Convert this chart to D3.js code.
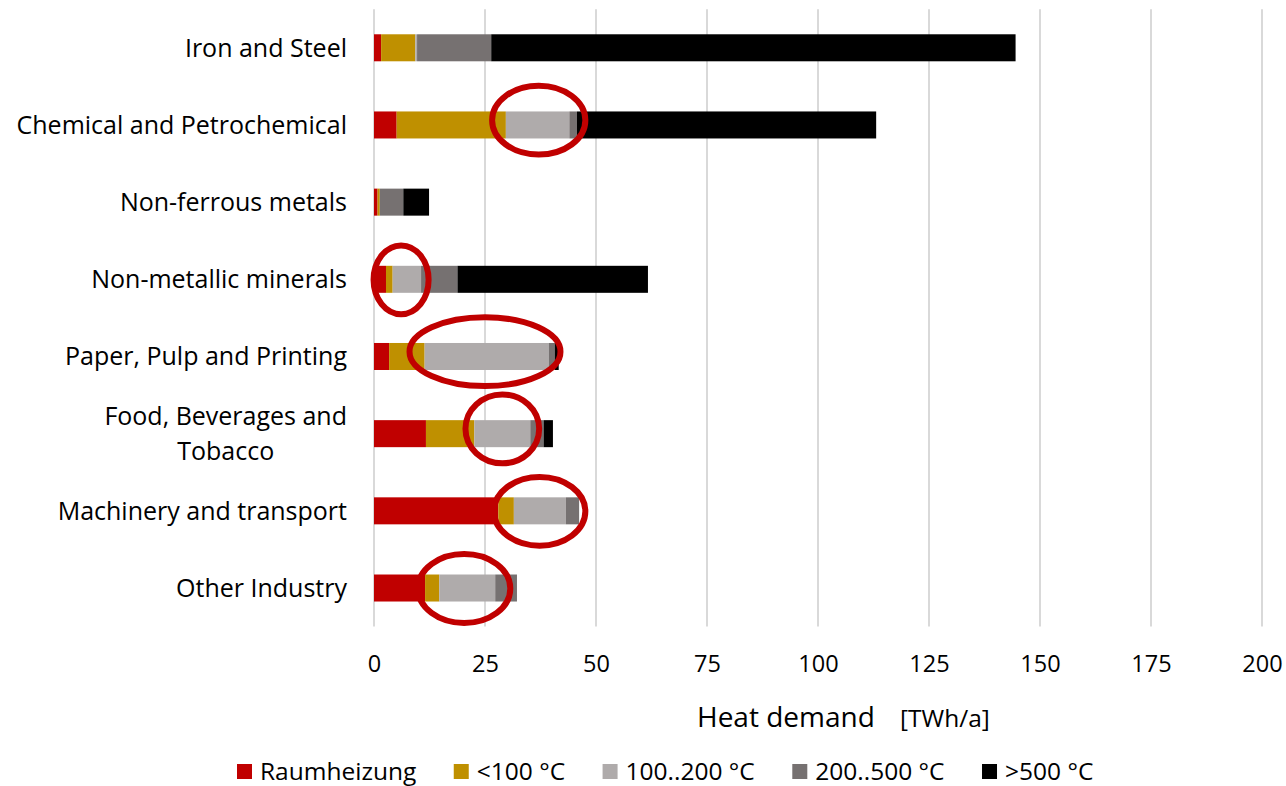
<!DOCTYPE html>
<html>
<head>
<meta charset="utf-8">
<script src="https://cdn.jsdelivr.net/npm/d3@7"></script>
<style>
  html, body { margin: 0; padding: 0; background: #fff; }
  svg { display: block; }
  text { font-family: "Open Sans", "Noto Sans", sans-serif; fill: #000; }
</style>
</head>
<body>
<svg id="chart" width="1286" height="786"></svg>
<script>
// ---- data ----
const categories = [
  "Iron and Steel",
  "Chemical and Petrochemical",
  "Non-ferrous metals",
  "Non-metallic minerals",
  "Paper, Pulp and Printing",
  "Food, Beverages and\nTobacco",
  "Machinery and transport",
  "Other Industry"
];
const seriesNames = ["Raumheizung", "<100 °C", "100..200 °C", "200..500 °C", ">500 °C"];
const raumheizung = [1.6, 5.1, 0.8, 2.7, 3.4, 11.7, 28.0, 11.5];
const below100    = [7.7, 24.6, 0.5, 1.5, 8.0, 10.9, 3.5, 3.2];
const t100to200   = [0.4, 14.3, 0.0, 6.4, 28.0, 12.6, 11.7, 12.6];
const t200to500   = [16.7, 1.7, 5.3, 8.2, 1.3, 3.0, 3.0, 4.9];
const above500    = [118.1, 67.4, 5.8, 42.9, 0.9, 2.1, 0.0, 0.0];
const xTicks = [0, 25, 50, 75, 100, 125, 150, 175, 200];
const axisTitle = "Heat demand";
const axisUnit = "[TWh/a]";
// highlighted segments (red ellipses): category, centre value, half-width (TWh)
const highlightCats   = ["Chemical and Petrochemical", "Non-metallic minerals", "Paper, Pulp and Printing", "Food, Beverages and\nTobacco", "Machinery and transport", "Other Industry"];
const highlightCenter = [37.1, 6.1, 25.0, 28.9, 37.3, 20.3];
const highlightHalf   = [10.5, 6.2, 17.0, 8.3, 10.3, 10.4];

// ---- styles ----
const colors = ["#c00000", "#bf9000", "#afabab", "#767171", "#000000"];
const svg = d3.select("#chart");
const margin = { left: 374, right: 24, top: 9.2, bottom: 159.4 };
const W = 1286, H = 786;

const x = d3.scaleLinear().domain([0, 200]).range([margin.left, W - margin.right]);
const y = d3.scaleBand().domain(categories).range([margin.top, H - margin.bottom]).paddingInner(0.65).paddingOuter(0.325);

// gridlines
svg.append("g")
  .selectAll("line").data(xTicks).join("line")
  .attr("x1", d => x(d)).attr("x2", d => x(d))
  .attr("y1", margin.top).attr("y2", H - margin.bottom)
  .attr("stroke", "#d9d9d9").attr("stroke-width", 2);

// stacked data
const rows = categories.map((c, i) => ({
  cat: c,
  "Raumheizung": raumheizung[i],
  "<100 °C": below100[i],
  "100..200 °C": t100to200[i],
  "200..500 °C": t200to500[i],
  ">500 °C": above500[i]
}));
const stack = d3.stack().keys(seriesNames)(rows);

svg.append("g").selectAll("g").data(stack).join("g")
  .attr("fill", (d, i) => colors[i])
  .selectAll("rect").data(d => d).join("rect")
  .attr("x", d => x(d[0]))
  .attr("width", d => Math.max(0, x(d[1]) - x(d[0])))
  .attr("y", d => y(d.data.cat))
  .attr("height", y.bandwidth());

// x axis tick labels
const xAxis = d3.axisBottom(x).tickValues(xTicks).tickSize(0).tickPadding(0);
const gx = svg.append("g").attr("transform", `translate(0,${H - margin.bottom})`).call(xAxis);
gx.select(".domain").remove();
gx.selectAll("text")
  .attr("dy", null).attr("y", 45)
  .style("font-family", '"Open Sans", sans-serif')
  .style("font-size", "23.5px").attr("fill", "#000");

// y axis category labels
const yAxis = d3.axisLeft(y).tickSize(0).tickPadding(0);
const gy = svg.append("g").attr("transform", `translate(${margin.left},0)`).call(yAxis);
gy.select(".domain").remove();
gy.selectAll(".tick text").each(function(d) {
  const t = d3.select(this);
  const lines = d.split("\n");
  t.text(null).attr("dy", null).attr("x", null)
    .style("font-family", '"Open Sans", sans-serif').style("font-size", "25px")
    .attr("fill", "#000");
  if (lines.length === 1) {
    t.attr("text-anchor", "end").attr("x", -27).attr("dy", "0.36em").text(d);
  } else {
    const tmp = t.append("tspan").text(lines[0]);
    const w = tmp.node().getComputedTextLength();
    tmp.remove();
    t.attr("text-anchor", "middle");
    lines.forEach((ln, k) => {
      t.append("tspan").attr("x", -27 - w / 2)
        .attr("y", (k - (lines.length - 1) / 2) * 35)
        .attr("dy", "0.36em").text(ln);
    });
  }
});

// axis title
const title = svg.append("text")
  .attr("y", 727).style("font-size", "28px");
title.append("tspan").attr("x", 697).text(axisTitle);
title.append("tspan").attr("x", 900).style("font-size", "24.5px").text(axisUnit);

// highlight ellipses
const step = y.step();
svg.append("g").selectAll("ellipse").data(highlightCats).join("ellipse")
  .attr("cx", (d, i) => x(highlightCenter[i]))
  .attr("cy", (d, i) => y(d) + y.bandwidth() / 2 + (i === 0 || i === 2 || i === 3 ? -4.8 : 0.5))
  .attr("rx", (d, i) => x(highlightHalf[i]) - x(0))
  .attr("ry", step * 0.446)
  .attr("fill", "none").attr("stroke", "#c00000").attr("stroke-width", 6);

// legend
const legend = svg.append("g").attr("transform", "translate(237,0)");
let lx = 0;
seriesNames.forEach((name, i) => {
  const g = legend.append("g").attr("transform", `translate(${lx},0)`);
  g.append("rect").attr("x", 0).attr("y", 764).attr("width", 15).attr("height", 15).attr("fill", colors[i]);
  const t = g.append("text").attr("x", 23).attr("y", 780).style("font-size", "24.5px").text(name);
  lx += 23 + t.node().getComputedTextLength() + 37.5;
});
</script>
</body>
</html>
